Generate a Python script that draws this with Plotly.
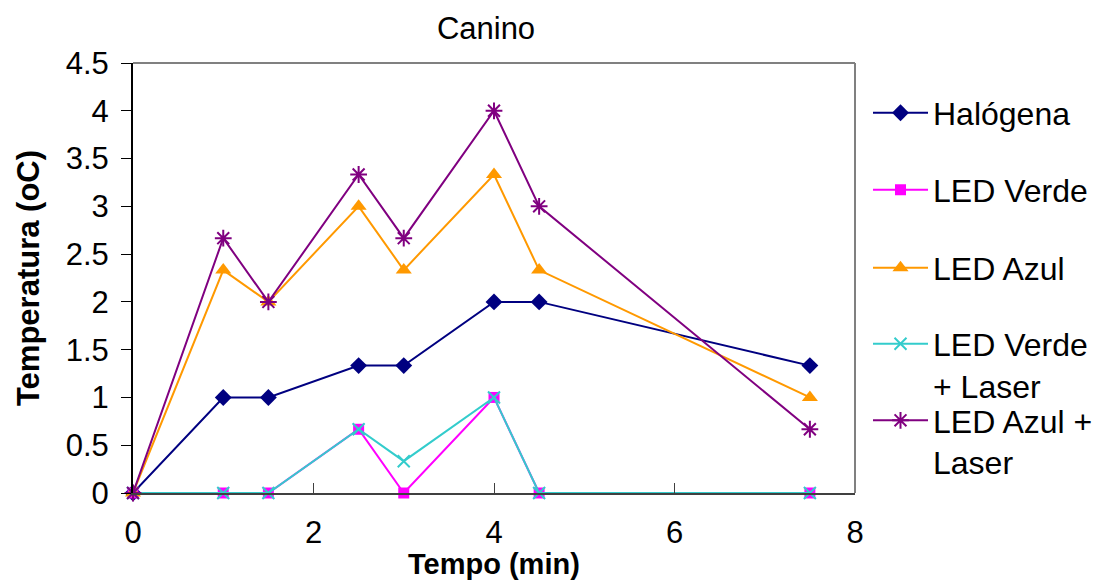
import plotly.graph_objects as go

tempo = [0, 1, 1.5, 2.5, 3, 4, 4.5, 7.5]
halogena = [0, 1, 1, 1.333, 1.333, 2, 2, 1.333]
led_verde = [0, 0, 0, 0.667, 0, 1, 0, 0]
led_azul = [0, 2.333, 2, 3, 2.333, 3.333, 2.333, 1]
led_verde_laser = [0, 0, 0, 0.667, 0.333, 1, 0, 0]
led_azul_laser = [0, 2.667, 2, 3.333, 2.667, 4, 3, 0.667]

names = ["Halógena", "LED Verde", "LED Azul", "LED Verde<br>+ Laser", "LED Azul +<br>Laser"]
colors = ["#000080", "#FF00FF", "#FF9900", "#33CCCC", "#800080"]
symbols = ["diamond", "square", "triangle-up", "x-thin-open", "asterisk-open"]
sizes = [13, 11, 14, 12, 14]
series = [halogena, led_verde, led_azul, led_verde_laser, led_azul_laser]
legend_ids = ["legend", "legend2", "legend3", "legend4", "legend5"]

FONT = "Liberation Sans, Arial, sans-serif"

fig = go.Figure()
for name, col, sym, sz, ys, lg in zip(names, colors, symbols, sizes, series, legend_ids):
    fig.add_trace(go.Scatter(
        x=tempo, y=ys, name=name, mode="lines+markers",
        line=dict(color=col, width=2),
        marker=dict(symbol=sym, size=sz, color=col, line=dict(color=col, width=2 if "open" in sym else 0)),
        legend=lg, showlegend=True, cliponaxis=False,
    ))

W, H = 1095, 583
L, R, T, B = 133, 855, 63, 493

leg_centers = [113, 190, 268, 365, 441.5]
leg_common = dict(font=dict(family=FONT, size=32, color="black"), bgcolor="rgba(0,0,0,0)",
                  xref="container", yref="container",
                  xanchor="left", yanchor="middle", valign="top", itemwidth=55)
legend_layout = {}
for lg, c in zip(legend_ids, leg_centers):
    legend_layout[lg] = dict(x=868 / W, y=1 - c / H, **leg_common)

fig.update_layout(
    width=W, height=H,
    showlegend=True,
    margin=dict(l=L, r=W - R, t=T, b=H - B, autoexpand=False),
    paper_bgcolor="white", plot_bgcolor="white",
    font=dict(family=FONT, size=31, color="black"),
    title=dict(text="Canino", x=486 / W, xref="container", xanchor="center",
               y=1 - 28 / H, yref="container", yanchor="middle",
               font=dict(family=FONT, size=31, color="black")),
    xaxis=dict(range=[0, 8], tickvals=[0, 2, 4, 6, 8], ticks="inside", ticklen=10,
               tickcolor="#404040", showline=True, linecolor="#404040", linewidth=2,
               showgrid=False, zeroline=False, ticklabelstandoff=11, automargin=False),
    yaxis=dict(range=[0, 4.5], tickvals=[0, 0.5, 1, 1.5, 2, 2.5, 3, 3.5, 4, 4.5],
               ticktext=["0", "0.5", "1", "1.5", "2", "2.5", "3", "3.5", "4", "4.5"],
               ticks="outside", ticklen=10, tickcolor="black",
               showline=True, linecolor="black", linewidth=2,
               showgrid=False, zeroline=False, ticklabelstandoff=6, automargin=False,
               title=dict(text="<b>Temperatura (oC)</b>", standoff=17,
                          font=dict(family=FONT, size=31, color="black"))),
    annotations=[
        dict(text="<b>Tempo (min)</b>", xref="paper", yref="paper",
             x=(494 - L) / (R - L), y=(B - 564) / (B - T), xanchor="center", yanchor="middle",
             showarrow=False, font=dict(family=FONT, size=29, color="black")),
    ],
    shapes=[
        dict(type="line", xref="paper", yref="paper", x0=0, x1=1, y0=1, y1=1,
             line=dict(color="#808080", width=2)),
        dict(type="line", xref="paper", yref="paper", x0=1, x1=1, y0=0, y1=1,
             line=dict(color="#808080", width=2)),
    ],
    **legend_layout,
)

fig.write_html("out.html")
